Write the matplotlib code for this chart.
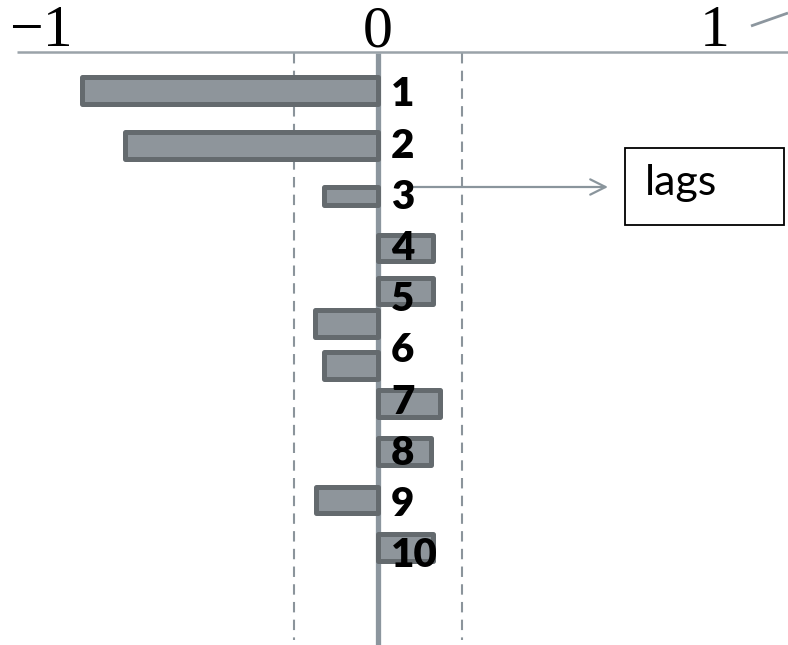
import matplotlib.pyplot as plt
import numpy as np

# Autocorrelation bars, one row per bar, with lag labels 1..10 beside the zero line
lags = [1, 2, 3, 4, 5, 6, 7, 8, 9, 10]
bar_lag = [0.98, 2.05, 3.05, 4.06, 4.90, 5.53, 6.35, 7.09, 8.03, 8.98, 9.91]
acf = [-0.877, -0.752, -0.159, 0.162, 0.162, -0.188, -0.159, 0.185, 0.156, -0.185, 0.162]
conf_band = 0.25
x_ticks = [-1, 0, 1]
x_tick_labels = ['\u22121', '0', '1']

BAR_FILL = '#8e959b'
BAR_EDGE = '#646a6e'
LINE_GRAY = '#8c969e'

W, H = 788, 645
fig = plt.figure(figsize=(W / 100, H / 100), dpi=100)
ax = fig.add_axes([0, 0, 1, 1])
ax.set_axis_off()

# pixel -> data mapping: zero at x=378, 337 px per unit; lag 1 at y=91.5, 51.2 px per lag
x0, sx = 378, 337
y0, sy = 91.5, 51.2
ax.set_xlim(-x0 / sx, (W - x0) / sx)
ax.set_ylim(1 + (H - y0) / sy, 1 - y0 / sy)


def px(pix):
    return (pix - x0) / sx


def py(pix):
    return 1 + (pix - y0) / sy


axis_y = py(52)

# top axis line and tick labels
ax.plot([px(17), px(W)], [axis_y, axis_y],
        color='#9aa3a9', lw=1.8, solid_capstyle='butt', zorder=2)
for xv, lab in zip(x_ticks, x_tick_labels):
    ax.text(xv, py(46.5), lab, ha='center', va='baseline', fontsize=43,
            family='Liberation Serif', color='black')

# small slanted stroke at the right end of the axis
ax.plot([px(751), px(788)], [py(26), py(13)],
        color='#8c969e', lw=2, solid_capstyle='butt', clip_on=False)

# confidence band and zero line
for xv in (-conf_band, conf_band):
    ax.plot([xv, xv], [axis_y + 0.02, py(640)], color='#8b949b', lw=1.5,
            dashes=(5, 3.5), zorder=1)
ax.plot([0, 0], [axis_y + 0.02, py(H + 5)], color=LINE_GRAY, lw=3.8,
        solid_capstyle='butt', zorder=1)

# bars
heights = np.full(len(acf), 26.5 / sy)
heights[2] = 18 / sy
ax.barh(bar_lag, acf, height=heights, color=BAR_FILL, edgecolor=BAR_EDGE,
        linewidth=3.6, joinstyle='round', zorder=3)

# lag labels
for k in lags:
    ax.text(px(391), k, str(k), ha='left', va='center_baseline', fontsize=29,
            family='Lato', fontweight='heavy', color='black', zorder=4)

# callout arrow and box
ax.annotate('', xy=(px(608), py(187)), xytext=(px(410), py(187)),
            arrowprops=dict(arrowstyle='->,head_length=1.1,head_width=0.55',
                            color='#8a959c', lw=1.6, shrinkA=0, shrinkB=0),
            zorder=2)
box = plt.Rectangle((px(625), py(148)), 159 / sx, (225 - 148) / sy,
                    fill=False, edgecolor='black', lw=1.3, zorder=3)
ax.add_patch(box)
ax.text(px(645), py(195), 'lags', ha='left', va='baseline', fontsize=31,
        family='Lato', color='black', zorder=4)

fig.savefig('out.png', dpi=100)
